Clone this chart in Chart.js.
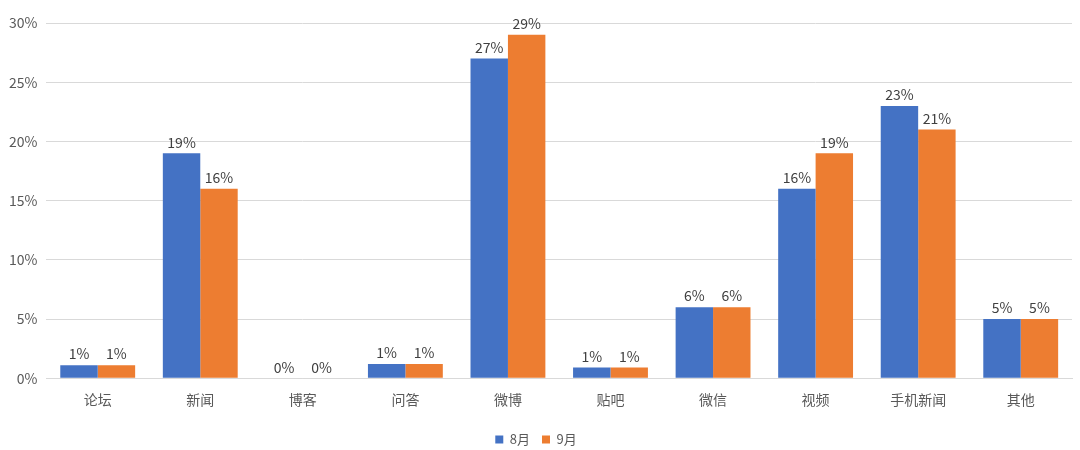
<!DOCTYPE html>
<html><head><meta charset="utf-8">
<script src="https://cdn.jsdelivr.net/npm/chart.js@4.4.0/dist/chart.umd.min.js"></script>
<style>html,body{margin:0;padding:0;background:#fff;}#wrap{width:1080px;height:450px;}</style>
</head><body><div id="wrap"><canvas id="c" width="1080" height="450"></canvas></div>
<script>
const categories = ["论坛","新闻","博客","问答","微博","贴吧","微信","视频","手机新闻","其他"];
const aug = [1.1, 19, 0, 1.2, 27, 0.9, 6, 16, 23, 5];
const sep = [1.1, 16, 0, 1.2, 29, 0.9, 6, 19, 21, 5];
const seriesNames = ["8月","9月"];
const FONT = "'Noto Sans CJK SC', 'Noto Sans', sans-serif";
const labelPlugin = {
  id: 'valLabels',
  afterDatasetsDraw(chart) {
    const ctx = chart.ctx;
    ctx.save();
    ctx.font = "14px " + FONT;
    ctx.fillStyle = "#404040";
    ctx.textAlign = "center";
    ctx.textBaseline = "bottom";
    chart.data.datasets.forEach((ds, i) => {
      chart.getDatasetMeta(i).data.forEach((bar, j) => {
        ctx.fillText(Math.round(ds.data[j]) + "%", bar.x, bar.y - 4);
      });
    });
    ctx.restore();
  }
};
new Chart(document.getElementById('c'), {
  type: 'bar',
  data: {
    labels: categories,
    datasets: [
      {label: seriesNames[0], data: aug, backgroundColor: '#4472C4'},
      {label: seriesNames[1], data: sep, backgroundColor: '#ED7D31'}
    ]
  },
  options: {
    responsive: false,
    animation: false,
    layout: {padding: {top: 23, right: 8, left: 0, bottom: -6}},
    datasets: {bar: {categoryPercentage: 0.73, barPercentage: 1.0}},
    scales: {
      x: {
        grid: {display: false, drawTicks: false},
        border: {color: '#d9d9d9', width: 1},
        ticks: {color: '#595959', font: {size: 14, family: FONT}, padding: 13}
      },
      y: {
        min: 0, max: 30,
        grid: {color: '#d9d9d9', drawTicks: false},
        border: {display: false},
        ticks: {stepSize: 5, color: '#595959', font: {size: 14, family: FONT}, padding: 9,
          callback: v => v + '%'}
      }
    },
    plugins: {
      legend: {
        position: 'bottom',
        labels: {boxWidth: 8, boxHeight: 8, color: '#595959', font: {size: 13, family: FONT}, padding: 12}
      },
      tooltip: {enabled: false}
    }
  },
  plugins: [labelPlugin]
});
</script></body></html>
